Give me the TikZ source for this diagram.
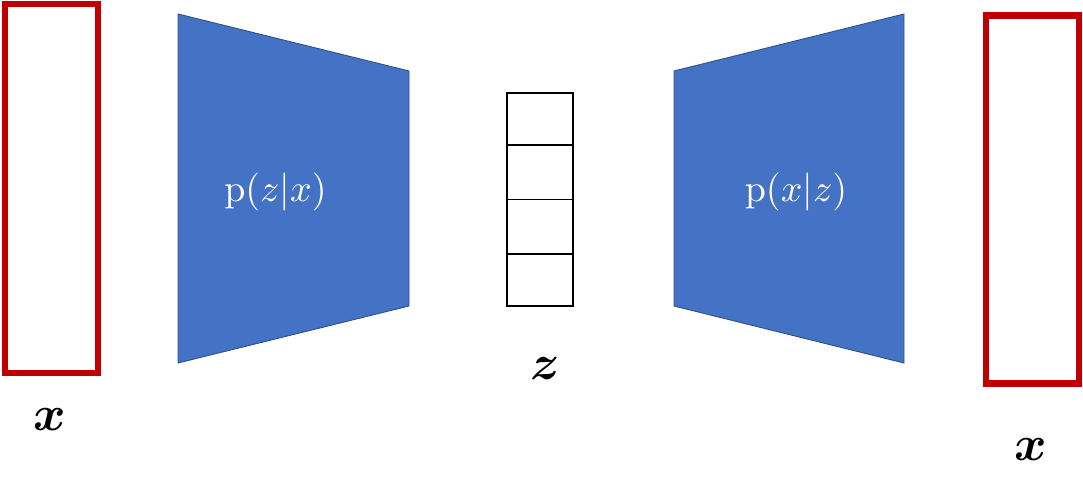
\documentclass[tikz,border=0pt]{standalone}
\usepackage{amsmath}
\definecolor{vred}{HTML}{C00000}
\definecolor{vblue}{HTML}{4472C4}
\definecolor{vblueline}{HTML}{2F528F}
\begin{document}
\begin{tikzpicture}[x=0.75pt,y=-0.75pt,
  datarect/.style={draw=vred,line width=4.9pt,inner sep=0pt,outer sep=0pt,minimum width=69.75pt},
  netshape/.style={fill=vblue,draw=vblueline,line width=0.7pt},
  cell/.style={draw=black,line width=1pt,inner sep=0pt,outer sep=0pt,minimum width=49.5pt},
  nettext/.style={text=white,inner sep=0pt,scale=2.85},
  varlabel/.style={inner sep=0pt,scale=3.7,font=\boldmath}]
\useasboundingbox (0,0) rectangle (1083,477);
% input
\node[datarect,minimum height=276.75pt] (xin) at (51.5,188.5) {};
\node[varlabel] (xinlabel) at (49.5,420) {$x$};
% encoder
\draw[netshape] (178,14) -- (409,71) -- (409,306) -- (178,363) -- cycle;
\node[nettext] (enc) at (275.5,192) {$\mathrm{p}(z|x)$};
% latent vector
\node[cell,minimum height=39pt] (c1) at (540,119) {};
\node[cell,minimum height=40.875pt] (c2) at (540,172.25) {};
\node[cell,minimum height=40.875pt] (c3) at (540,226.75) {};
\node[cell,minimum height=39pt] (c4) at (540,280) {};
\node[varlabel] (zlabel) at (545.5,369) {$z$};
% decoder
\draw[netshape] (674,71) -- (904,14) -- (904,363) -- (674,306) -- cycle;
\node[nettext] (dec) at (796,192) {$\mathrm{p}(x|z)$};
% output
\node[datarect,minimum height=276pt] (xout) at (1032.5,199.5) {};
\node[varlabel] (xoutlabel) at (1030.5,449.5) {$x$};
\end{tikzpicture}
\end{document}
